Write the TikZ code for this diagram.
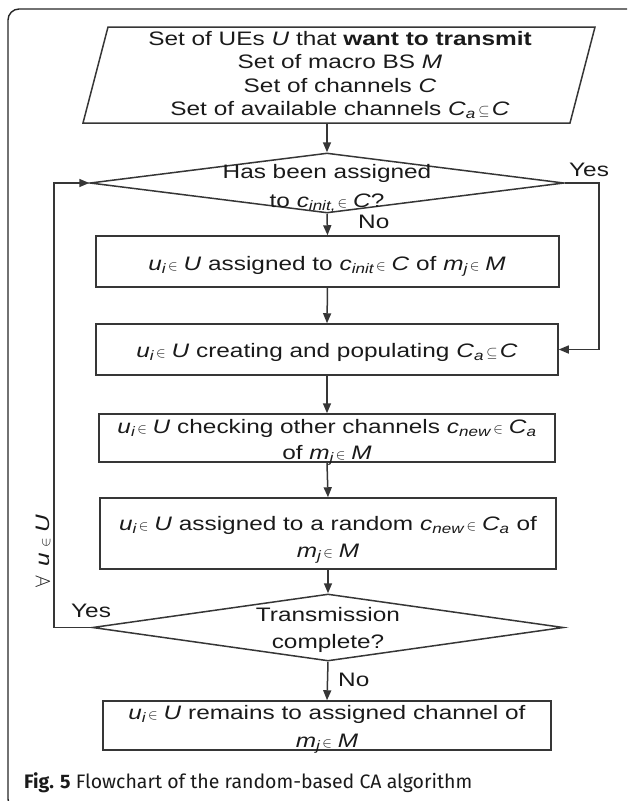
\documentclass[tikz,border=0pt]{standalone}
\usepackage{fontspec}
\setmainfont[FakeStretch=1.25]{Liberation Sans}
\newfontfamily\capfont{Fira Sans}
\usetikzlibrary{arrows.meta,shapes.geometric}
\definecolor{ln}{HTML}{363636}
\definecolor{tx}{HTML}{1A1A1A}
\newcommand{\vv}[1]{\textit{#1}}
\newcommand{\sbi}[1]{\textsubscript{\textit{#1}}}
\newcommand{\elm}{\hspace{0.08em}{\fontsize{15}{15}\selectfont$\in$}\hspace{0.3em}}
\newcommand{\sbs}{\hspace{0.12em}{\fontsize{15}{15}\selectfont$\subseteq$}\hspace{0.12em}}
\begin{document}
\begin{tikzpicture}[x=1pt,y=-1pt,
  line/.style={draw=ln,line width=1.5pt},
  arr/.style={line,-{Triangle[length=10pt,width=8pt]}},
  box/.style={line,rectangle,inner sep=0pt},
  dia/.style={line,diamond,inner sep=0pt},
  txt/.style={text=tx,font=\fontsize{19.5}{19.5}\selectfont,inner sep=0pt,anchor=base},
  captxt/.style={text=tx,font=\capfont\fontsize{19.5}{19.5}\selectfont,inner sep=0pt,anchor=base west}]
\useasboundingbox (0,0) rectangle (627,801);
\begin{scope}
\clip (0,0) rectangle (627,801);
\draw[line width=1.4pt,draw=black!85,rounded corners=11pt] (8,9) rectangle (645,810);
\end{scope}
% input parallelogram
\draw[line] (108,27) -- (595,27) -- (570,123) -- (83,123) -- cycle;
\node[txt] (t1) at (340,45) {Set of UEs \vv{U} that \textbf{want to transmit}};
\node[txt] (t2) at (340,68) {Set of macro BS \vv{M}};
\node[txt] (t3) at (340,92) {Set of channels \vv{C}};
\node[txt] (t4) at (340,115) {Set of available channels \vv{C}\sbi{a}\sbs\vv{C}};
\coordinate (inb) at (327,123);
% decision 1
\node[dia,minimum width=474pt,minimum height=60pt] (d1) at (327,183) {};
\node[txt] (d1a) at (327,178) {Has been assigned};
\node[txt] (d1b) at (327,207) {to \vv{c}\sbi{init,}\elm\vv{C}?};
\node[txt,anchor=base west] (yes1) at (569,176) {Yes};
\node[txt,anchor=base west] (no1) at (358,228) {No};
% boxes
\node[box,minimum width=463pt,minimum height=51pt] (b1) at (327.5,261.5) {};
\node[txt] (b1t) at (327,270) {\vv{u}\sbi{i}\elm\vv{U} assigned to \vv{c}\sbi{init}\elm\vv{C} of \vv{m}\sbi{j}\elm\vv{M}};
\node[box,minimum width=462pt,minimum height=51pt] (b2) at (327,349.5) {};
\node[txt] (b2t) at (327,357) {\vv{u}\sbi{i}\elm\vv{U} creating and populating \vv{C}\sbi{a}\sbs\vv{C}};
\node[box,minimum width=456pt,minimum height=48pt] (b3) at (327,438) {};
\node[txt] (b3a) at (327,433) {\vv{u}\sbi{i}\elm\vv{U} checking other channels \vv{c}\sbi{new}\elm\vv{C}\sbi{a}};
\node[txt] (b3b) at (327,459) {of \vv{m}\sbi{j}\elm\vv{M}};
\node[box,minimum width=456pt,minimum height=71pt] (b4) at (328,533.5) {};
\node[txt] (b4a) at (328,530) {\vv{u}\sbi{i}\elm\vv{U} assigned to a random \vv{c}\sbi{new}\elm\vv{C}\sbi{a} of};
\node[txt] (b4b) at (328,557) {\vv{m}\sbi{j}\elm\vv{M}};
% decision 2
\node[dia,minimum width=471pt,minimum height=67pt] (d2) at (328,627.5) {};
\node[txt] (d2a) at (328,621) {Transmission};
\node[txt] (d2b) at (328,648) {complete?};
\node[txt,anchor=base west] (yes2) at (71,617) {Yes};
\node[txt,anchor=base west] (no2) at (338,686) {No};
% final box
\node[box,minimum width=448pt,minimum height=49pt] (b5) at (327,725.5) {};
\node[txt] (b5a) at (327,719) {\vv{u}\sbi{i}\elm\vv{U} remains to assigned channel of};
\node[txt] (b5b) at (327,747) {\vv{m}\sbi{j}\elm\vv{M}};
% loop label
\node[txt,anchor=center,rotate=90] (fa) at (43,551) {{\fontsize{21}{21}\selectfont$\forall$}\hspace{0.45em}\vv{u}\hspace{0.2em}\elm\vv{U}};
% connectors
\draw[arr] (inb) -- (d1.north);
\draw[arr] (d1.south) -- (b1.north);
\draw[arr] (b1.south) -- (b2.north);
\draw[arr] (b2.south) -- (b3.north);
\draw[arr] (b3.south) -- (b4.north);
\draw[arr] (b4.south) -- (d2.north);
\draw[arr] (d2.south) -- (b5.north);
\coordinate (rp) at (599,260);
\draw[arr] (d1.east) -| (rp) |- (b2.east);
\coordinate (lp) at (54,400);
\draw[arr] (d2.west) -| (lp) |- (d1.west);
% caption
\node[captxt] (capt) at (24,788) {\textbf{Fig. 5} Flowchart of the random-based CA algorithm};
\end{tikzpicture}
\end{document}
